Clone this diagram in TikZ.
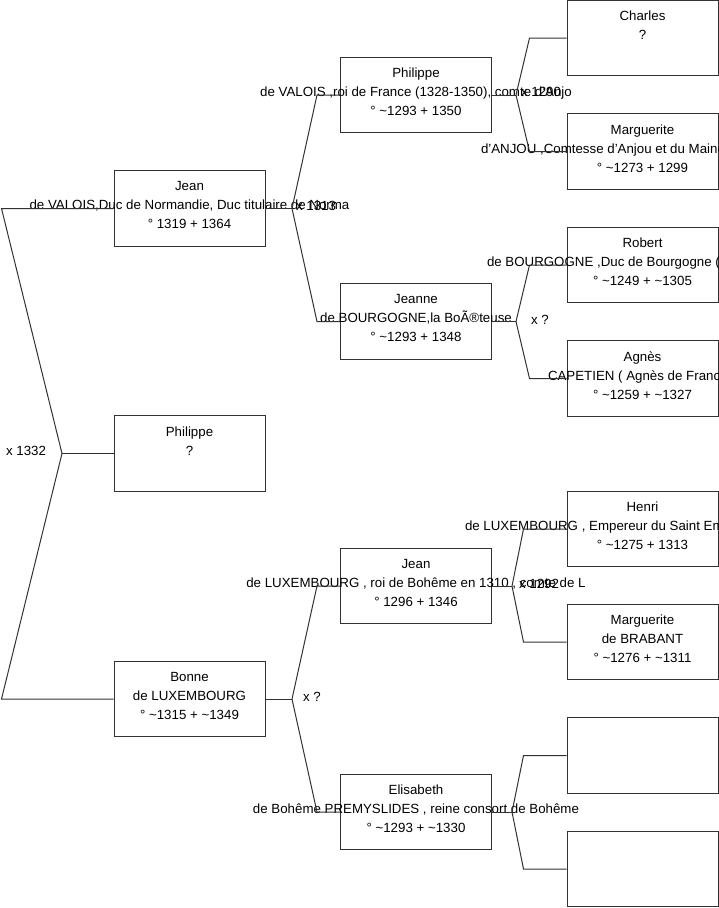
\documentclass[tikz,border=0pt]{standalone}
\usepackage{fontspec}
\setmainfont{Liberation Sans}
\usetikzlibrary{positioning,calc}
\definecolor{boxgray}{RGB}{50,50,50}
\begin{document}
\begin{tikzpicture}[x=1pt,y=-1pt,
    person/.style={draw=boxgray,line width=1pt,minimum width=151pt,minimum height=75.5pt,inner sep=0pt},
    info/.style={anchor=north,align=center,inner ysep=11pt,inner xsep=0pt,font=\fontsize{13.3}{19}\selectfont},
    link/.style={draw=boxgray,line width=1pt},
    wed/.style={inner sep=0pt,font=\fontsize{13.3}{15}\selectfont}]
    \useasboundingbox (0,0) rectangle (719,908);
    % generation 1
    \node[person] (jean) at (189.5,208.5) {};
    \node[person] (philippe) at (189.5,453.5) {};
    \node[person] (bonne) at (189.5,699) {};
    \node[info] (jeant) at (jean.north) {Jean\\de VALOIS,Duc de Normandie, Duc titulaire de Norma\\° 1319 + 1364};
    \node[info] (philippet) at (philippe.north) {Philippe\\?};
    \node[info] (bonnet) at (bonne.north) {Bonne\\de LUXEMBOURG\\° \textasciitilde1315 + \textasciitilde1349};
    % generation 2
    \node[person] (philippeV) at (416,95) {};
    \node[person] (jeanne) at (416,321.5) {};
    \node[person] (jeanL) at (416,586) {};
    \node[person] (elisabeth) at (416,812) {};
    \node[info] (philippeVt) at (philippeV.north) {Philippe\\de VALOIS ,roi de France (1328-1350), comte d'Anjo\\° \textasciitilde1293 + 1350};
    \node[info] (jeannet) at (jeanne.north) {Jeanne\\de BOURGOGNE,la BoÃ®teuse\\° \textasciitilde1293 + 1348};
    \node[info] (jeanLt) at (jeanL.north) {Jean\\de LUXEMBOURG , roi de Bohême en 1310 , comte de L\\° 1296 + 1346};
    \node[info] (elisabetht) at (elisabeth.north) {Elisabeth\\de Bohême PREMYSLIDES , reine consort de Bohême\\° \textasciitilde1293 + \textasciitilde1330};
    % generation 3
    \node[person] (charles) at (642.5,38) {};
    \node[person] (margueriteA) at (642.5,151.5) {};
    \node[person] (robert) at (642.5,265) {};
    \node[person] (agnes) at (642.5,378.5) {};
    \node[person] (henri) at (642.5,529) {};
    \node[person] (margueriteB) at (642.5,642) {};
    \node[person] (empty1) at (642.5,755.5) {};
    \node[person] (empty2) at (642.5,869) {};
    \node[info] (charlest) at (charles.north) {Charles\\?};
    \node[info] (margueriteAt) at (margueriteA.north) {Marguerite\\\makebox[323pt][l]{d'ANJOU ,Comtesse d'Anjou et du Maine}\\° \textasciitilde1273 + 1299};
    \node[info] (robertt) at (robert.north) {Robert\\\makebox[311pt][l]{de BOURGOGNE ,Duc de Bourgogne (}\\° \textasciitilde1249 + \textasciitilde1305};
    \node[info] (agnest) at (agnes.north) {Agnès\\\makebox[189pt][l]{CAPETIEN ( Agnès de France}\\° \textasciitilde1259 + \textasciitilde1327};
    \node[info] (henrit) at (henri.north) {Henri\\\makebox[355pt][l]{de LUXEMBOURG , Empereur du Saint Empire}\\° \textasciitilde1275 + 1313};
    \node[info] (margueriteBt) at (margueriteB.north) {Marguerite\\de BRABANT\\° \textasciitilde1276 + \textasciitilde1311};
    % forks
    \coordinate (froot) at (62,453.5);
    \draw[link] (philippe.west) -- (froot);
    \draw[link] (froot) -- ([xshift=-112pt]jean.west) -- (jean.west);
    \draw[link] (froot) -- ([xshift=-112pt]bonne.west) -- (bonne.west);
    \coordinate (fjean) at (292,208.5);
    \draw[link] (jean.east) -- (fjean);
    \draw[link] (fjean) -- ([xshift=-23pt]philippeV.west) -- (philippeV.west);
    \draw[link] (fjean) -- ([xshift=-23pt]jeanne.west) -- (jeanne.west);
    \coordinate (fbonne) at (292,699);
    \draw[link] (bonne.east) -- (fbonne);
    \draw[link] (fbonne) -- ([xshift=-23pt]jeanL.west) -- (jeanL.west);
    \draw[link] (fbonne) -- ([xshift=-23pt]elisabeth.west) -- (elisabeth.west);
    \coordinate (fphilippeV) at (516,95);
    \draw[link] (philippeV.east) -- (fphilippeV);
    \draw[link] (fphilippeV) -- ([xshift=-37pt]charles.west) -- (charles.west);
    \draw[link] (fphilippeV) -- ([xshift=-37pt]margueriteA.west) -- (margueriteA.west);
    \coordinate (fjeanne) at (516,321.5);
    \draw[link] (jeanne.east) -- (fjeanne);
    \draw[link] (fjeanne) -- ([xshift=-37pt]robert.west) -- (robert.west);
    \draw[link] (fjeanne) -- ([xshift=-37pt]agnes.west) -- (agnes.west);
    \coordinate (fjeanL) at (512,586);
    \draw[link] (jeanL.east) -- (fjeanL);
    \draw[link] (fjeanL) -- ([xshift=-43pt]henri.west) -- (henri.west);
    \draw[link] (fjeanL) -- ([xshift=-43pt]margueriteB.west) -- (margueriteB.west);
    \coordinate (felisabeth) at (512,812);
    \draw[link] (elisabeth.east) -- (felisabeth);
    \draw[link] (felisabeth) -- ([xshift=-43pt]empty1.west) -- (empty1.west);
    \draw[link] (felisabeth) -- ([xshift=-43pt]empty2.west) -- (empty2.west);
    % marriages
    \node[wed] (w1332) at (26,451) {x 1332};
    \node[wed] (w1313) at (316,206) {x 1313};
    \node[wed] (w1290) at (541,92) {x 1290};
    \node[wed] (wjeanne) at (540,320) {x ?};
    \node[wed] (w1292) at (539,584) {x 1292};
    \node[wed] (wbonne) at (312,697) {x ?};
\end{tikzpicture}
\end{document}
